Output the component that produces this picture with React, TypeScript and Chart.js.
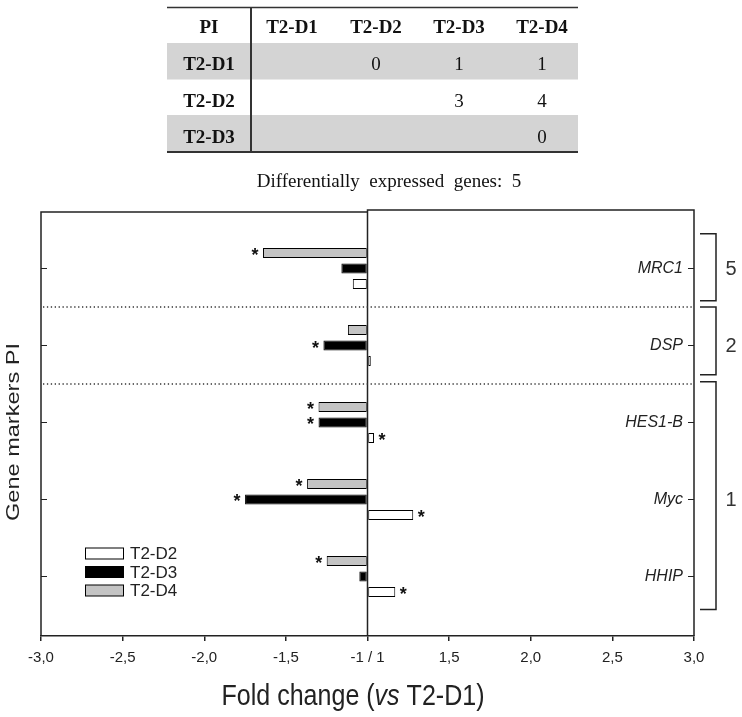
import React, { useEffect, useRef } from 'react';
import { Chart, registerables } from 'chart.js';

Chart.register(...registerables);

// ---------- data ----------
const genes = ['MRC1', 'DSP', 'HES1-B', 'Myc', 'HHIP'];
const seriesNames = ['T2-D2', 'T2-D3', 'T2-D4'];
const foldD2 = [-1.09, 1.02, 1.04, 1.28, 1.17];
const foldD3 = [-1.16, -1.27, -1.3, -1.75, -1.05];
const foldD4 = [-1.64, -1.12, -1.3, -1.37, -1.25];
const sigD2 = [false, false, true, true, true];
const sigD3 = [false, true, true, true, false];
const sigD4 = [true, false, true, true, true];
const xTickLabels = ['-3,0', '-2,5', '-2,0', '-1,5', '-1 / 1', '1,5', '2,0', '2,5', '3,0'];
const groupCounts = ['5', '2', '1'];
const tableHeader = ['PI', 'T2-D1', 'T2-D2', 'T2-D3', 'T2-D4'];
const tableRowNames = ['T2-D1', 'T2-D2', 'T2-D3'];
const tableRow1 = ['', '0', '1', '1'];
const tableRow2 = ['', '', '3', '4'];
const tableRow3 = ['', '', '', '0'];
const totalGenes = 5;

// ---------- styles ----------
const WHITE = '#ffffff';
const BLACK = '#000000';
const GRAY = '#c4c4c4';
const INK = '#222222';
const SANS = '"Liberation Sans", Arial, sans-serif';
const SERIF = '"Liberation Serif", "Times New Roman", serif';

// fold change -> linear position (-1/1 collapsed to 0)
const toU = (f: number) => (f >= 1 ? f - 1 : f + 1);
const mk = (vals: number[]) => vals.map((v, i) => ({ x: toU(v), y: i }));

// bracket extents in category-index units
const bracketSpans = [
  { from: -0.45, to: 0.42, at: 0 },
  { from: 0.5, to: 1.38, at: 1 },
  { from: 1.47, to: 4.43, at: 3 },
];

function drawStretched(
  ctx: CanvasRenderingContext2D,
  parts: { text: string; italic?: boolean }[],
  size: number,
  targetWidth: number
) {
  const widths = parts.map((p) => {
    ctx.font = `${p.italic ? 'italic ' : ''}${size}px ${SANS}`;
    return ctx.measureText(p.text).width;
  });
  const total = widths.reduce((a, b) => a + b, 0);
  const sx = targetWidth / total;
  ctx.save();
  ctx.scale(sx, 1);
  let x = -total / 2;
  ctx.textAlign = 'left';
  ctx.textBaseline = 'alphabetic';
  parts.forEach((p, i) => {
    ctx.font = `${p.italic ? 'italic ' : ''}${size}px ${SANS}`;
    ctx.fillText(p.text, x, 0);
    x += widths[i];
  });
  ctx.restore();
}

const overlay = {
  id: 'overlay',
  afterDraw(chart: any) {
    const ctx: CanvasRenderingContext2D = chart.ctx;
    const { left, right, top, bottom } = chart.chartArea;
    const xs = chart.scales.x;
    const ys = chart.scales.y;
    const zeroX = xs.getPixelForValue(0);

    ctx.save();
    // ---- table ----
    const colX = [209, 292, 376, 459, 542];
    const tL = 167, tR = 578, divX = 251;
    const rowTop = [43, 79, 115];
    const rowH = 36.5;
    ctx.fillStyle = '#d4d4d4';
    ctx.fillRect(tL, rowTop[0], tR - tL, rowH);
    ctx.fillRect(tL, rowTop[2], tR - tL, rowH + 0.5);
    ctx.strokeStyle = '#333';
    ctx.lineWidth = 1.5;
    ctx.beginPath();
    ctx.moveTo(tL, 7.5); ctx.lineTo(tR, 7.5);
    ctx.stroke();
    ctx.lineWidth = 2;
    ctx.beginPath();
    ctx.moveTo(tL, 152); ctx.lineTo(tR, 152);
    ctx.moveTo(divX, 7); ctx.lineTo(divX, 152);
    ctx.stroke();
    ctx.fillStyle = '#111';
    ctx.textAlign = 'center';
    ctx.textBaseline = 'alphabetic';
    ctx.font = `bold 19px ${SERIF}`;
    tableHeader.forEach((h, i) => ctx.fillText(h, colX[i], 33));
    const rows = [tableRow1, tableRow2, tableRow3];
    const baseY = [70, 107, 143];
    rows.forEach((r, ri) => {
      ctx.font = `bold 19px ${SERIF}`;
      ctx.fillText(tableRowNames[ri], colX[0], baseY[ri]);
      ctx.font = `19px ${SERIF}`;
      r.forEach((v, ci) => {
        if (v) ctx.fillText(v, colX[ci + 1], baseY[ri]);
      });
    });
    ctx.font = `19px ${SERIF}`;
    ctx.fillText(`Differentially  expressed  genes:  ${totalGenes}`, 389, 187);

    // ---- frame ----
    ctx.strokeStyle = INK;
    ctx.lineWidth = 1.5;
    ctx.beginPath();
    ctx.moveTo(left, bottom); ctx.lineTo(left, top + 1); ctx.lineTo(zeroX, top + 1);
    ctx.moveTo(zeroX, bottom); ctx.lineTo(zeroX, top - 1); ctx.lineTo(right, top - 1); ctx.lineTo(right, bottom);
    ctx.stroke();

    // inward ticks + gene labels
    ctx.lineWidth = 1.2;
    ctx.beginPath();
    genes.forEach((_, i) => {
      const y = ys.getPixelForValue(i);
      ctx.moveTo(left, y); ctx.lineTo(left + 6, y);
      ctx.moveTo(right - 6, y); ctx.lineTo(right, y);
    });
    ctx.stroke();
    ctx.fillStyle = INK;
    ctx.font = `italic 16px ${SANS}`;
    ctx.textAlign = 'right';
    ctx.textBaseline = 'middle';
    genes.forEach((g, i) => ctx.fillText(g, right - 11, ys.getPixelForValue(i)));

    // dotted separators
    ctx.save();
    ctx.setLineDash([1.3, 2.6]);
    ctx.strokeStyle = '#333';
    ctx.lineWidth = 1.3;
    [0.5, 1.5].forEach((v) => {
      const y = ys.getPixelForValue(v);
      ctx.beginPath();
      ctx.moveTo(left + 2, y); ctx.lineTo(right, y);
      ctx.stroke();
    });
    ctx.restore();

    // brackets
    ctx.strokeStyle = INK;
    ctx.lineWidth = 1.5;
    ctx.fillStyle = '#333';
    ctx.font = `20px ${SANS}`;
    ctx.textAlign = 'center';
    ctx.textBaseline = 'middle';
    bracketSpans.forEach((b, i) => {
      const y1 = ys.getPixelForValue(b.from);
      const y2 = ys.getPixelForValue(b.to);
      ctx.beginPath();
      ctx.moveTo(right + 6, y1); ctx.lineTo(right + 22, y1); ctx.lineTo(right + 22, y2); ctx.lineTo(right + 6, y2);
      ctx.stroke();
      ctx.fillText(groupCounts[i], right + 37, ys.getPixelForValue(b.at) + 1);
    });

    // asterisks
    ctx.fillStyle = '#111';
    ctx.font = `bold 18px ${SANS}`;
    ctx.textAlign = 'center';
    ctx.textBaseline = 'alphabetic';
    chart.data.datasets.forEach((ds: any, di: number) => {
      const meta = chart.getDatasetMeta(di);
      meta.data.forEach((el: any, j: number) => {
        if (!ds.sig[j]) return;
        const neg = el.x < el.base;
        const sx = neg ? el.x - 8 : el.x + 8;
        ctx.fillText('*', sx, el.y + 8);
      });
    });

    // legend
    const legendColors = [WHITE, BLACK, GRAY];
    const legendY = [553.5, 572, 590.5];
    ctx.lineWidth = 1;
    ctx.strokeStyle = BLACK;
    ctx.font = `17px ${SANS}`;
    ctx.textAlign = 'left';
    ctx.textBaseline = 'middle';
    seriesNames.forEach((n, i) => {
      ctx.fillStyle = legendColors[i];
      ctx.fillRect(85.5, legendY[i] - 5.5, 38, 11);
      ctx.strokeRect(85.5, legendY[i] - 5.5, 38, 11);
      ctx.fillStyle = INK;
      ctx.fillText(n, 130, legendY[i] + 1);
    });

    // axis titles
    ctx.fillStyle = INK;
    ctx.save();
    ctx.translate(353, 705);
    drawStretched(ctx, [{ text: 'Fold change (' }, { text: 'vs', italic: true }, { text: ' T2-D1)' }], 29, 263);
    ctx.restore();
    ctx.save();
    ctx.translate(19, 432);
    ctx.rotate(-Math.PI / 2);
    drawStretched(ctx, [{ text: 'Gene markers PI' }], 18, 178);
    ctx.restore();

    ctx.restore();
  },
};

export default function App() {
  const ref = useRef<HTMLCanvasElement>(null);
  useEffect(() => {
    const canvas = ref.current;
    if (!canvas) return;
    const chart = new Chart(canvas, {
      type: 'bar',
      data: {
        datasets: [
          { label: seriesNames[2], data: mk(foldD4), backgroundColor: GRAY, sig: sigD4 } as any,
          { label: seriesNames[1], data: mk(foldD3), backgroundColor: BLACK, sig: sigD3 } as any,
          { label: seriesNames[0], data: mk(foldD2), backgroundColor: WHITE, sig: sigD2 } as any,
        ],
      },
      options: {
        indexAxis: 'y',
        animation: false,
        responsive: false,
        devicePixelRatio: 1,
        layout: { padding: { left: 41, right: 48, top: 211, bottom: 42 } },
        datasets: {
          bar: {
            categoryPercentage: 0.604,
            barPercentage: 0.645,
            borderWidth: 1,
            borderColor: BLACK,
            borderSkipped: false,
          },
        },
        plugins: { legend: { display: false }, tooltip: { enabled: false } },
        scales: {
          x: {
            type: 'linear',
            min: -2,
            max: 2,
            offset: false,
            ticks: {
              stepSize: 0.5,
              autoSkip: false,
              maxRotation: 0,
              padding: 8,
              color: INK,
              font: { family: SANS, size: 15 },
              callback: (_v: any, i: number) => xTickLabels[i],
            },
            grid: { drawOnChartArea: false, drawTicks: true, tickLength: 5, color: INK, lineWidth: 1.5, offset: false },
            border: { display: true, color: INK, width: 1.5 },
          },
          y: {
            type: 'linear',
            reverse: true,
            min: -0.747,
            max: 4.773,
            offset: false,
            grid: { offset: false },
            display: false,
            afterBuildTicks: (s: any) => {
              s.ticks = genes.map((_, i) => ({ value: i }));
            },
          },
        },
      } as any,
      plugins: [overlay],
    });
    return () => chart.destroy();
  }, []);
  return (
    <div style={{ position: 'absolute', left: 0, top: 0, width: 742, height: 717, background: '#fff' }}>
      <canvas ref={ref} width={742} height={717} style={{ display: 'block', width: 742, height: 717 }} />
    </div>
  );
}
